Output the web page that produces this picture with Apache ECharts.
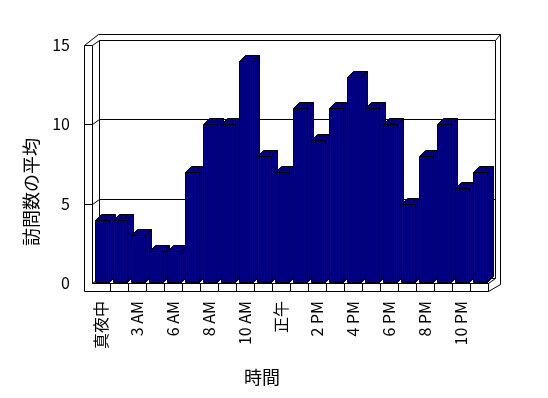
<!DOCTYPE html>
<html><head><meta charset="utf-8">
<script src="https://cdn.jsdelivr.net/npm/echarts@6/dist/echarts.min.js"></script>
<style>html,body{margin:0;padding:0;background:#fff}#c{width:548px;height:398px}</style>
</head><body><div id="c"></div>
<script>
const categories = ['真夜中','1 AM','3 AM','4 AM','6 AM','7 AM','8 AM','9 AM','10 AM','11 AM','正午','1 PM','2 PM','3 PM','4 PM','5 PM','6 PM','7 PM','8 PM','9 PM','10 PM','11 PM'];
const visits = [4,4,3,2,2,7,10,10,14,8,7,11,9,11,13,11,10,5,8,10,6,7];
const yTicks = [0,5,10,15];
const xTitle = '時間';
const yTitle = '訪問数の平均';

const FONT = '"Noto Sans CJK JP", "Noto Sans", sans-serif';
const DX = 7, DY = -5, BX = 12, BY = -10.7, LW = 8, FT = 8.3;
const p = v => Math.round(v) + 0.5;
const BLACK = '#000';

function ln(x1, y1, x2, y2) {
  return { type: 'line', shape: { x1: p(x1), y1: p(y1), x2: p(x2), y2: p(y2) }, style: { stroke: BLACK, lineWidth: 1 } };
}
function poly(pts, fill) {
  return { type: 'polygon', shape: { points: pts.map(a => [p(a[0]), p(a[1])]) }, style: { fill: fill, stroke: BLACK, lineWidth: 1 } };
}

function frameItem(params, api) {
  const bw = api.size([1, 0])[0];
  const c0 = api.coord([0, 0]);
  const cN = api.coord([categories.length - 1, 0]);
  const Lx = c0[0] - bw / 2, Rx = cN[0] + bw / 2, Y0 = c0[1];
  const Ytop = api.coord([0, yTicks[yTicks.length - 1]])[1];
  const ch = [];
  ch.push(poly([[Lx - LW, Ytop], [Lx - LW + 14, Ytop + BY], [Rx + BX, Ytop + BY], [Rx + BX, Y0 + 0.6], [Rx, Y0 + FT], [Lx - LW, Y0 + FT]], '#fff'));
  ch.push(poly([[Lx + DX, Ytop + DY], [Rx + DX, Ytop + DY], [Rx + DX, Y0 + DY], [Lx + DX, Y0 + DY]], '#fff'));
  ch.push(ln(Rx + DX, Ytop + DY, Rx + BX, Ytop + BY));
  ch.push(ln(Lx - LW, Ytop, Lx, Ytop));
  ch.push(ln(Lx, Ytop, Lx + DX, Ytop + DY));
  ch.push(ln(Lx, Ytop, Lx, Y0));
  ch.push(ln(Lx, Y0, Rx, Y0));
  ch.push(ln(Lx, Y0, Lx + DX, Y0 + DY));
  ch.push(ln(Rx, Y0, Rx + DX, Y0 + DY));
  ch.push(ln(Rx, Y0, Rx, Y0 + FT));
  for (let i = 1; i < categories.length; i++) {
    const x = Lx + i * bw;
    ch.push(ln(x, Y0, x, Y0 + FT));
  }
  for (let k = 1; k < yTicks.length - 1; k++) {
    const y = api.coord([0, yTicks[k]])[1];
    ch.push(ln(Lx + DX, y + DY, Rx + DX, y + DY));
    ch.push(ln(Lx, y, Lx + DX, y + DY));
    ch.push(ln(Lx - LW, y, Lx, y));
  }
  return { type: 'group', children: ch };
}

function barItem(params, api) {
  const i = api.value(0), v = api.value(1);
  const bw = api.size([1, 0])[0];
  const top = api.coord([i, v]);
  const base = api.coord([i, 0]);
  const x0 = top[0] - bw / 2 + bw * 0.14;
  const x1 = x0 + bw * 0.83;
  const yT = top[1], yB = base[1] - 1.5;
  const d = 6;
  const NAVY = '#000080';
  return {
    type: 'group',
    children: [
      poly([[x1, yT], [x1 + d, yT - d], [x1 + d, yB - d], [x1, yB]], NAVY),
      poly([[x0, yT], [x0 + d, yT - d], [x1 + d, yT - d], [x1, yT]], NAVY),
      poly([[x0, yT], [x1, yT], [x1, yB], [x0, yB]], NAVY)
    ]
  };
}

const chart = echarts.init(document.getElementById('c'), null, { renderer: 'canvas' });
chart.setOption({
  animation: false,
  backgroundColor: '#fff',
  grid: { left: 92, right: 60, top: 45, bottom: 115 },
  xAxis: {
    type: 'category', data: categories,
    axisLine: { show: false }, axisTick: { show: false },
    axisLabel: { interval: 1, rotate: 90, margin: 18, color: '#000', fontSize: 16, fontFamily: FONT }
  },
  yAxis: {
    type: 'value', min: 0, max: 15, interval: 5,
    axisLine: { show: false }, axisTick: { show: false }, splitLine: { show: false },
    axisLabel: { margin: 22, color: '#000', fontSize: 16, fontFamily: FONT }
  },
  graphic: [
    { type: 'text', x: 262, y: 377, style: { text: xTitle, font: '18px ' + FONT, fill: '#000', textAlign: 'center', textVerticalAlign: 'middle' } },
    { type: 'text', x: 31, y: 192, rotation: Math.PI / 2, style: { text: yTitle, font: '18px ' + FONT, fill: '#000', textAlign: 'center', textVerticalAlign: 'middle' } }
  ],
  series: [
    { type: 'custom', data: [[0, 0]], renderItem: frameItem, silent: true, z: 1, clip: false },
    { type: 'custom', data: visits.map((v, i) => [i, v]), renderItem: barItem, z: 2, clip: false,
      encode: { x: 0, y: 1 } }
  ]
});
</script>
</body></html>
